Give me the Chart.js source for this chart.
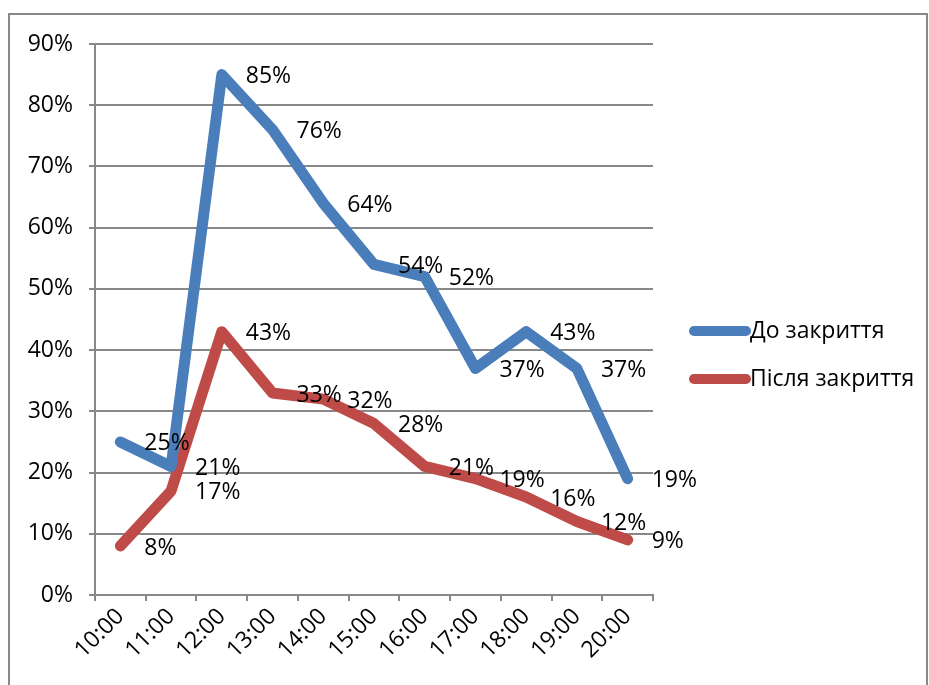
<!DOCTYPE html>
<html>
<head>
<meta charset="utf-8">
<script src="https://cdn.jsdelivr.net/npm/chart.js@4"></script>
<style>
    body { margin: 0; background: #fff; }
    .frame { position: absolute; left: 8px; top: 13px; width: 920px; height: 700px; border: 2px solid #888; box-sizing: border-box; }
    canvas { position: absolute; left: 0; top: 0; }
</style>
</head>
<body>
<div class="frame"></div>
<canvas id="chart" width="929" height="685"></canvas>
<script>
const hours = ["10:00", "11:00", "12:00", "13:00", "14:00", "15:00", "16:00", "17:00", "18:00", "19:00", "20:00"];
const beforeClosing = [25, 21, 85, 76, 64, 54, 52, 37, 43, 37, 19];
const afterClosing = [8, 17, 43, 33, 32, 28, 21, 19, 16, 12, 9];
const seriesNames = ["До закриття", "Після закриття"];
const seriesColors = ["#4a7ebb", "#be4b48"];

const FONT = "'Open Sans', sans-serif";
const FONT_SIZE = 23;

// value labels to the right of each point
const valueLabels = {
    id: "valueLabels",
    afterDatasetsDraw(chart) {
        const ctx = chart.ctx;
        ctx.save();
        ctx.font = FONT_SIZE + "px " + FONT;
        ctx.fillStyle = "#000";
        ctx.textAlign = "left";
        ctx.textBaseline = "middle";
        chart.data.datasets.forEach((ds, i) => {
            chart.getDatasetMeta(i).data.forEach((pt, j) => {
                ctx.fillText(ds.data[j] + "%", pt.x + 24, pt.y + 2);
            });
        });
        ctx.restore();
    }
};

// legend drawn on the right, like the original
const sideLegend = {
    id: "sideLegend",
    afterDraw(chart) {
        const ctx = chart.ctx;
        ctx.save();
        ctx.font = FONT_SIZE + "px " + FONT;
        ctx.textBaseline = "middle";
        ctx.fillStyle = "#000";
        seriesNames.forEach((name, i) => {
            const y = 331 + i * 48;
            ctx.strokeStyle = seriesColors[i];
            ctx.lineWidth = 10;
            ctx.lineCap = "round";
            ctx.beginPath();
            ctx.moveTo(694, y);
            ctx.lineTo(746, y);
            ctx.stroke();
            ctx.fillText(name, 750, y);
        });
        ctx.restore();
    }
};

new Chart(document.getElementById("chart"), {
    type: "line",
    data: {
        labels: hours,
        datasets: [
            {
                label: seriesNames[0],
                data: beforeClosing,
                borderColor: seriesColors[0],
                backgroundColor: seriesColors[0],
                borderWidth: 11,
                borderJoinStyle: "round",
                borderCapStyle: "round",
                pointRadius: 0,
                tension: 0
            },
            {
                label: seriesNames[1],
                data: afterClosing,
                borderColor: seriesColors[1],
                backgroundColor: seriesColors[1],
                borderWidth: 11,
                borderJoinStyle: "round",
                borderCapStyle: "round",
                pointRadius: 0,
                tension: 0
            }
        ]
    },
    options: {
        responsive: false,
        animation: false,
        layout: { padding: { top: 44, right: 276, left: 0, bottom: 0 } },
        plugins: {
            legend: { display: false },
            tooltip: { enabled: false }
        },
        scales: {
            x: {
                offset: true,
                grid: {
                    offset: true,
                    drawOnChartArea: false,
                    color: "#888",
                    lineWidth: 2,
                    tickLength: 6
                },
                border: { color: "#888", width: 2 },
                ticks: {
                    color: "#000",
                    font: { family: FONT, size: FONT_SIZE },
                    minRotation: 45,
                    maxRotation: 45,
                    padding: 2
                },
                afterFit(scale) { scale.height = 90; }
            },
            y: {
                min: 0,
                max: 90,
                grid: {
                    color: "#888",
                    lineWidth: 2,
                    tickLength: 6
                },
                border: { color: "#888", width: 2 },
                ticks: {
                    stepSize: 10,
                    color: "#000",
                    font: { family: FONT, size: FONT_SIZE },
                    padding: 16,
                    callback: (v) => v + "%"
                },
                afterFit(scale) { scale.width = 95; }
            }
        }
    },
    plugins: [valueLabels, sideLegend]
});
</script>
</body>
</html>
